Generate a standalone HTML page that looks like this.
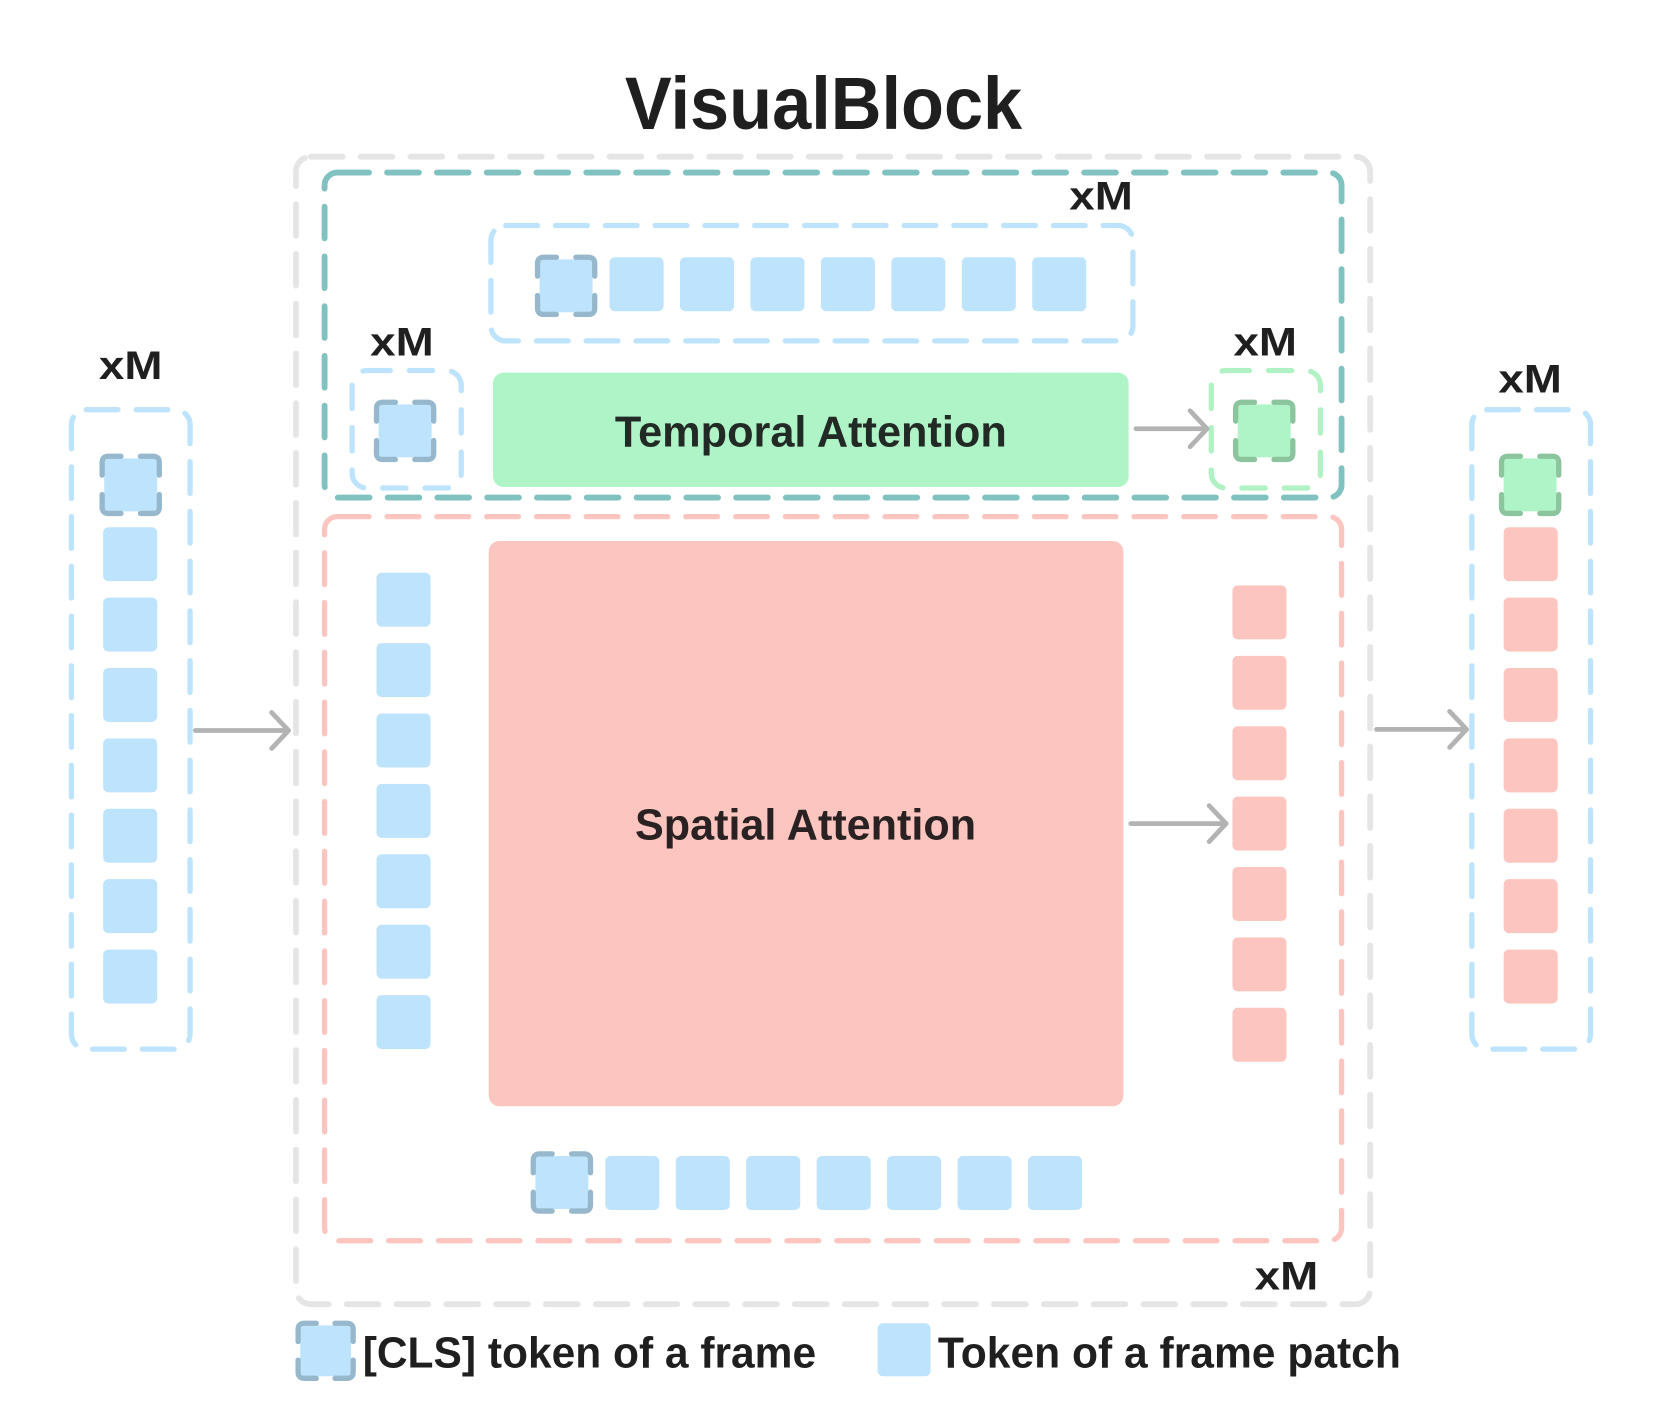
<!DOCTYPE html>
<html><head><meta charset="utf-8"><style>
html,body{margin:0;padding:0;background:#fff;width:1660px;height:1423px;overflow:hidden}
svg{display:block}
text{font-family:"Liberation Sans",sans-serif;font-weight:bold;fill:#1f1f1f}
</style></head><body>
<svg id="s" width="1660" height="1423" viewBox="0.6 0 1567 1344.2" preserveAspectRatio="none" xmlns="http://www.w3.org/2000/svg">
<g id="g"></g>
<text x="778" y="122" font-size="70" text-anchor="middle" textLength="375" lengthAdjust="spacingAndGlyphs">VisualBlock</text>
<text x="1040" y="198" font-size="38" text-anchor="middle" textLength="60" lengthAdjust="spacingAndGlyphs">xM</text>
<text x="380" y="336" font-size="38" text-anchor="middle" textLength="60" lengthAdjust="spacingAndGlyphs">xM</text>
<text x="1195" y="336" font-size="38" text-anchor="middle" textLength="60" lengthAdjust="spacingAndGlyphs">xM</text>
<text x="124" y="358" font-size="38" text-anchor="middle" textLength="60" lengthAdjust="spacingAndGlyphs">xM</text>
<text x="1445" y="371" font-size="38" text-anchor="middle" textLength="60" lengthAdjust="spacingAndGlyphs">xM</text>
<text x="1215" y="1218" font-size="38" text-anchor="middle" textLength="60" lengthAdjust="spacingAndGlyphs">xM</text>
<text x="766" y="422" font-size="41" text-anchor="middle" textLength="370" lengthAdjust="spacingAndGlyphs" style="fill:#222a25">Temporal Attention</text>
<text x="761" y="793" font-size="41" text-anchor="middle" textLength="322" lengthAdjust="spacingAndGlyphs" style="fill:#2a2222">Spatial Attention</text>
<text x="343" y="1292" font-size="41" textLength="428" lengthAdjust="spacingAndGlyphs">[CLS] token of a frame</text>
<text x="886" y="1292" font-size="41" textLength="437" lengthAdjust="spacingAndGlyphs">Token of a frame patch</text>
</svg>
<script>
var g=document.getElementById('g'),h='';
function dbox(x,y,w,hh,c,da,sw,r){h+='<rect x="'+x+'" y="'+y+'" width="'+w+'" height="'+hh+'" rx="'+r+'" fill="none" stroke="'+c+'" stroke-width="'+sw+'" stroke-dasharray="'+da+'" stroke-linecap="round"/>';}
function tok(x,y,s,c){h+='<rect x="'+x+'" y="'+y+'" width="'+s+'" height="'+s+'" rx="5" fill="'+c+'"/>';}
function cls(x,y,s,fill,st){tok(x+2,y+2,s-4,fill);var a=s*0.33,r=6,x2=x+s,y2=y+s;
var p='M'+x+','+(y+a)+' L'+x+','+(y+r)+' Q'+x+','+y+' '+(x+r)+','+y+' L'+(x+a)+','+y+
' M'+(x2-a)+','+y+' L'+(x2-r)+','+y+' Q'+x2+','+y+' '+x2+','+(y+r)+' L'+x2+','+(y+a)+
' M'+x2+','+(y2-a)+' L'+x2+','+(y2-r)+' Q'+x2+','+y2+' '+(x2-r)+','+y2+' L'+(x2-a)+','+y2+
' M'+(x+a)+','+y2+' L'+(x+r)+','+y2+' Q'+x+','+y2+' '+x+','+(y2-r)+' L'+x+','+(y2-a);
h+='<path d="'+p+'" fill="none" stroke="'+st+'" stroke-width="5" stroke-linecap="round"/>';}
function arrow(x1,x2,y){h+='<path d="M'+x1+','+y+' L'+x2+','+y+' M'+(x2-16)+','+(y-17)+' L'+x2+','+y+' L'+(x2-16)+','+(y+17)+'" fill="none" stroke="#b3b3b3" stroke-width="4.5" stroke-linecap="round" stroke-linejoin="round"/>';}
var B='#bde3fd',R='#fdc5bf',G='#aef4c6',CS='#97b8cc',GS='#8cc49e';
dbox(280,148,1014,1084,'#e5e5e5','30 17',5.5,14);
dbox(307,163,960,307,'#80c2c0','30 17',5.5,12);
dbox(307,488,960,684,'#fdc5bf','30 17',5,12);
dbox(464,213,606,109,'#bde3fd','30 17',5,14);
dbox(333,350,103,111,'#bde3fd','22 18',5,14);
dbox(1144,350,103,111,'#b0f2c4','22 18',5,14);
dbox(68,387,112,604,'#bde3fd','30 17',5,14);
dbox(1390,387,112,604,'#bde3fd','30 17',5,14);
h+='<rect x="466" y="352" width="600" height="108" rx="10" fill="'+G+'"/>';
h+='<rect x="462" y="511" width="599" height="534" rx="10" fill="'+R+'"/>';
cls(508,243,54,B,CS);
for(var i=0;i<7;i++)tok(576+i*66.5,243,51,B);
cls(356,380,54,B,CS);
cls(1167,380,54,G,GS);
cls(97,431,54,B,CS);
for(i=0;i<7;i++)tok(98,498+i*66.5,51,B);
cls(1418,431,54,G,GS);
for(i=0;i<7;i++)tok(1420,498+i*66.5,51,R);
for(i=0;i<7;i++)tok(356,541+i*66.5,51,B);
for(i=0;i<7;i++)tok(1164,553+i*66.5,51,R);
cls(504,1090,54,B,CS);
for(i=0;i<7;i++)tok(572+i*66.5,1092,51,B);
arrow(1073,1140,405);
arrow(185,273,690);
arrow(1068,1158,778);
arrow(1300,1385,689);
cls(282,1250,52,B,CS);
tok(829,1250,50,B);
g.innerHTML=h;
</script>
</body></html>
